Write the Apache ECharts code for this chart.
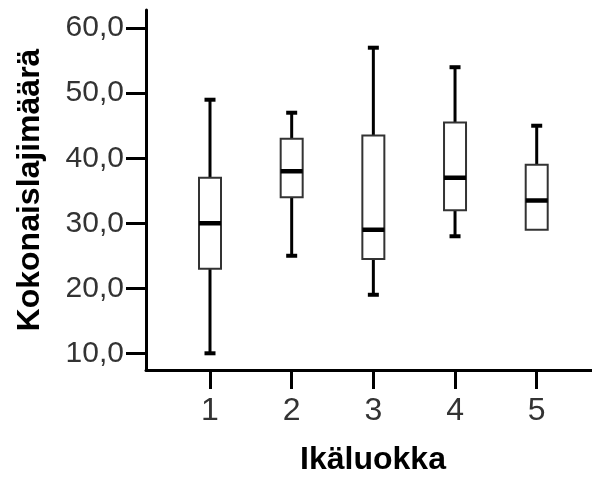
<!DOCTYPE html>
<html>
<head>
<meta charset="utf-8">
<script src="https://cdn.jsdelivr.net/npm/echarts@6/dist/echarts.min.js"></script>
<style>html,body{margin:0;padding:0;background:#fff}#c{width:592px;height:477px}</style>
</head>
<body>
<div id="c"></div>
<script>
const categories = [1, 2, 3, 4, 5];
const mins    = [10, 25, 19, 28, 29];
const q1s     = [23, 34, 24.5, 32, 29];
const medians = [30, 38, 29, 37, 33.5];
const q3s     = [37, 43, 43.5, 45.5, 39];
const maxs    = [49, 47, 57, 54, 45];
const yTicks  = [10, 20, 30, 40, 50, 60];

const data = categories.map((c, i) => [c, mins[i], q1s[i], medians[i], q3s[i], maxs[i]]);
const FONT = '"Liberation Sans", Arial, sans-serif';

const chart = echarts.init(document.getElementById('c'), null, {renderer: 'canvas'});
chart.setOption({
  animation: false,
  backgroundColor: '#fff',
  grid: {left: 146, right: 0, top: 10, bottom: 107, containLabel: false, outerBoundsMode: 'none'},
  xAxis: {
    type: 'value', min: 0.2164, max: 5.677,
    name: 'Ikäluokka', nameLocation: 'middle', nameGap: 74,
    nameTextStyle: {fontFamily: FONT, fontSize: 32, fontWeight: 'bold', color: '#000', padding: [0, 0, 0, 8]},
    axisLine: {show: true, lineStyle: {color: '#000', width: 3}},
    axisTick: {show: true, length: 19, lineStyle: {color: '#000', width: 3}, customValues: categories},
    axisLabel: {customValues: categories, fontFamily: FONT, fontSize: 32, color: '#333', margin: 25},
    splitLine: {show: false}
  },
  yAxis: {
    type: 'value', min: 7.43, max: 62.8,
    name: 'Kokonaislajimäärä', nameLocation: 'middle', nameGap: 100,
    nameTextStyle: {fontFamily: FONT, fontSize: 32, fontWeight: 'bold', color: '#000'},
    axisLine: {show: true, lineStyle: {color: '#000', width: 3}},
    axisTick: {show: true, length: 20, lineStyle: {color: '#000', width: 3}, customValues: yTicks},
    axisLabel: {customValues: yTicks, fontFamily: FONT, fontSize: 30, color: '#333', margin: 22,
      formatter: v => v.toFixed(1).replace('.', ',')},
    splitLine: {show: false}
  },
  series: [{
    type: 'custom',
    data: data,
    encode: {x: 0, y: [1, 2, 3, 4, 5]},
    renderItem: function (params, api) {
      const x = api.value(0);
      const pMin = api.coord([x, api.value(1)]);
      const pQ1 = api.coord([x, api.value(2)]);
      const pMed = api.coord([x, api.value(3)]);
      const pQ3 = api.coord([x, api.value(4)]);
      const pMax = api.coord([x, api.value(5)]);
      const cx = pMed[0];
      const bw = 22, cw = 11;
      const children = [];
      if (pMax[1] < pQ3[1]) {
        children.push({type: 'line', shape: {x1: cx, y1: pQ3[1], x2: cx, y2: pMax[1]}, style: {stroke: '#000', lineWidth: 3}});
        children.push({type: 'line', shape: {x1: cx - cw / 2, y1: pMax[1], x2: cx + cw / 2, y2: pMax[1]}, style: {stroke: '#000', lineWidth: 4}});
      }
      if (pMin[1] > pQ1[1]) {
        children.push({type: 'line', shape: {x1: cx, y1: pQ1[1], x2: cx, y2: pMin[1]}, style: {stroke: '#000', lineWidth: 3}});
        children.push({type: 'line', shape: {x1: cx - cw / 2, y1: pMin[1], x2: cx + cw / 2, y2: pMin[1]}, style: {stroke: '#000', lineWidth: 4}});
      }
      children.push({type: 'rect', shape: {x: cx - bw / 2, y: pQ3[1], width: bw, height: pQ1[1] - pQ3[1]},
        style: {fill: '#fff', stroke: '#333', lineWidth: 2}});
      children.push({type: 'line', shape: {x1: cx - bw / 2, y1: pMed[1], x2: cx + bw / 2, y2: pMed[1]}, style: {stroke: '#000', lineWidth: 4.5}});
      return {type: 'group', children: children};
    }
  }]
});
</script>
</body>
</html>
